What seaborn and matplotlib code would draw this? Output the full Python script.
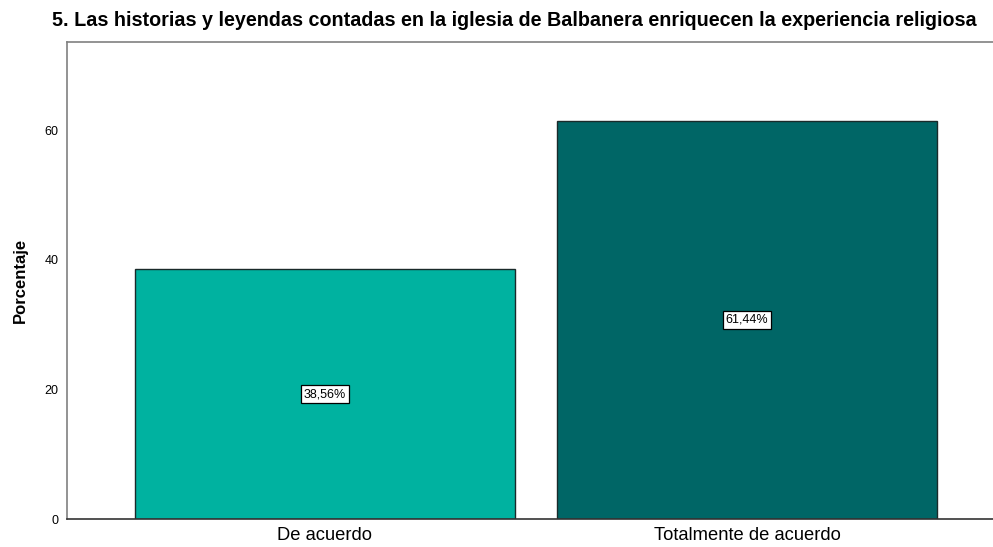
import matplotlib
matplotlib.use("Agg")
import matplotlib.pyplot as plt
import seaborn as sns
import pandas as pd

sns.set_style("white")
plt.rcParams['font.family'] = ['Liberation Sans', 'DejaVu Sans']

# data
categories = ["De acuerdo", "Totalmente de acuerdo"]
percentages = [38.56, 61.44]
bar_colors = ["#00b2a0", "#006666"]

df = pd.DataFrame({"respuesta": categories, "pct": percentages})

fig = plt.figure(figsize=(9.93, 5.47), dpi=100)
ax = fig.add_axes([67/993, 28/547, 926/993, 477/547])

sns.barplot(data=df, x="respuesta", y="pct", hue="respuesta", palette=bar_colors,
            saturation=1, width=0.9, edgecolor="#1a2a2a", linewidth=1.0,
            legend=False, ax=ax)

# percentage labels in boxes
for i, v in enumerate(percentages):
    ax.text(i, v / 2, f"{v:.2f}%".replace(".", ","), ha="center", va="center",
            fontsize=9, color="black",
            bbox=dict(boxstyle="square,pad=0.22", facecolor="white",
                      edgecolor="black", linewidth=0.9))

ax.set_xlim(-0.611, 1.583)
ax.set_ylim(0, 73.6)
ax.set_yticks([0, 20, 40, 60])
ax.tick_params(axis="y", labelsize=9, length=0, pad=6, labelcolor="black")
ax.tick_params(axis="x", labelsize=13.2, length=0, pad=6, labelcolor="black")
ax.set_xlabel("")
ax.set_ylabel("Porcentaje", fontsize=12, fontweight="bold", labelpad=12, color="black")

ax.spines["right"].set_visible(False)
ax.spines["left"].set_color("#808080")
ax.spines["top"].set_color("#808080")
ax.spines["bottom"].set_color("#333333")
for s in ["left", "top", "bottom"]:
    ax.spines[s].set_linewidth(1.2)

fig.text(52/993, 1 - 21/547,
         "5. Las historias y leyendas contadas en la iglesia de Balbanera enriquecen la experiencia religiosa",
         fontsize=14.2, fontweight="bold", ha="left", va="center", color="black")

fig.savefig("out.png", dpi=100)
